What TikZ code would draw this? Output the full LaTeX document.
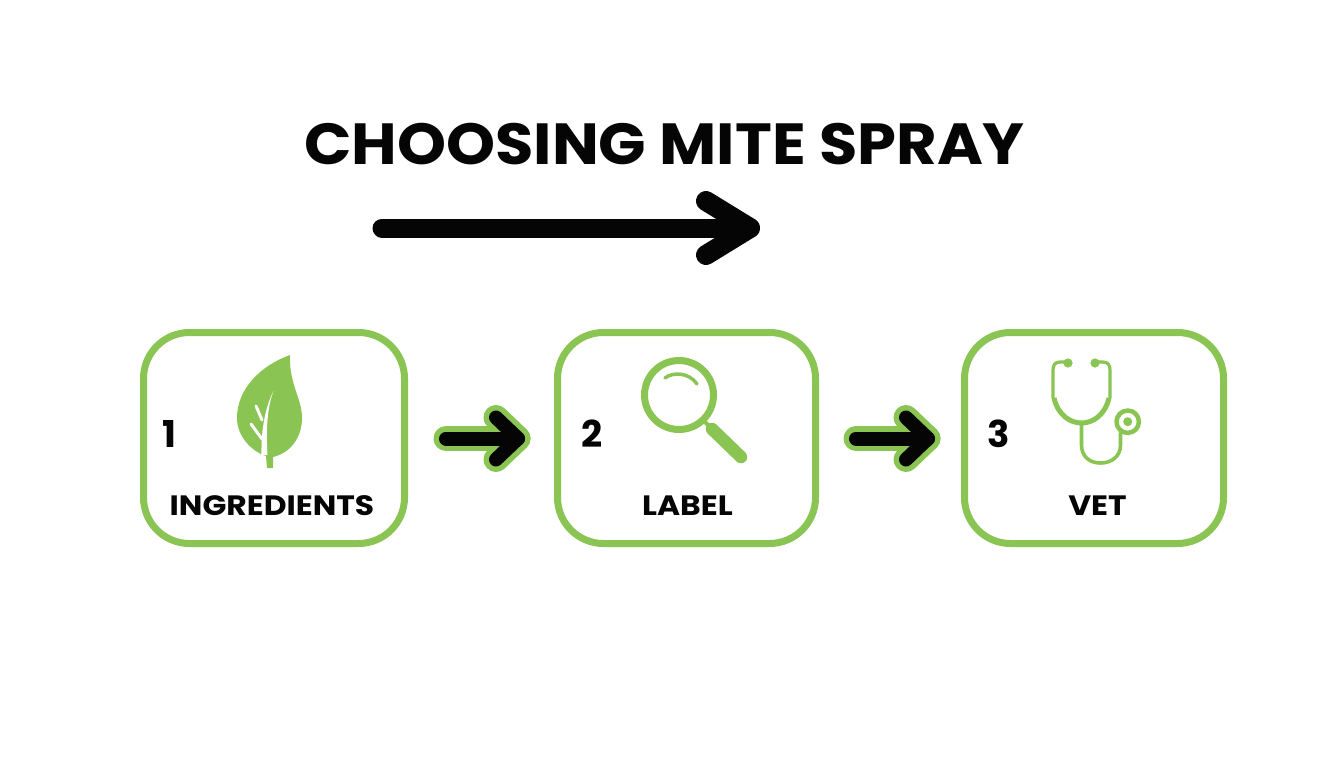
\documentclass[tikz,border=0pt]{standalone}
\usepackage{fontspec}
\setmainfont{Poppins}
\newfontfamily\widefont[FakeStretch=1.12]{Poppins}
\newfontfamily\titlefont[FakeStretch=1.075]{Poppins}
\definecolor{leafgreen}{HTML}{8AC453}
\definecolor{ink}{HTML}{050505}
\tikzset{
  stepbox/.style={draw=leafgreen,line width=7pt,rounded corners=46pt,fill=white,inner sep=0pt,anchor=north west},
  stepnum/.style={font=\bfseries\fontsize{37}{37}\selectfont,text=ink,inner sep=0pt,anchor=base},
  steplabel/.style={font=\widefont\bfseries\fontsize{28}{28}\selectfont,text=ink,inner sep=0pt,anchor=base},
  icon/.style={draw=leafgreen,line cap=round,line join=round},
}
\newcommand{\flowarrow}[2]{%
  \draw[leafgreen,line width=25pt,line cap=round,line join=round] (#1) -- (#2);
  \draw[leafgreen,line width=25pt,line cap=round,line join=round] ([shift={(-22,-21)}]#2) -- (#2) -- ([shift={(-22,21)}]#2);
  \draw[ink,line width=14pt,line cap=round,line join=round] (#1) -- (#2);
  \draw[ink,line width=14pt,line cap=round,line join=round] ([shift={(-22,-21)}]#2) -- (#2) -- ([shift={(-22,21)}]#2);
}
\begin{document}
\begin{tikzpicture}[x=1pt,y=-1pt]
\useasboundingbox (0,0) rectangle (1344,768);
\fill[white] (0,0) rectangle (1344,768);

% title
\node[font=\titlefont\bfseries\fontsize{58}{58}\selectfont,text=ink,inner sep=0pt,anchor=base] (title) at (664.5,164.5) {CHOOSING MITE SPRAY};

% title arrow
\coordinate (ta) at (382,228);
\coordinate (tb) at (750,228);
\draw[ink,line width=19pt,line cap=round] (ta) -- (tb);
\draw[ink,line width=20pt,line cap=round,line join=round] ([shift={(-44,-27)}]tb) -- (tb) -- ([shift={(-44,27)}]tb);

% boxes
\node[stepbox,minimum width=261pt,minimum height=211pt] (box1) at (140,329) {};
\node[stepbox,minimum width=258pt,minimum height=211pt] (box2) at (554,329) {};
\node[stepbox,minimum width=259pt,minimum height=211pt] (box3) at (961,329) {};

% numbers and labels
\node[stepnum] (n1) at (169,447) {1};
\node[stepnum] (n2) at (592,447) {2};
\node[stepnum] (n3) at (998.5,447) {3};
\node[steplabel] (l1) at (272,515) {INGREDIENTS};
\node[steplabel] (l2) at (687.5,515) {LABEL};
\node[steplabel] (l3) at (1097.5,515) {VET};

% connectors
\coordinate (a1s) at (446,438.5);
\coordinate (a1e) at (518,438.5);
\coordinate (a2s) at (856,438.5);
\coordinate (a2e) at (928,438.5);
\flowarrow{a1s}{a1e}
\flowarrow{a2s}{a2e}

% leaf icon
\fill[leafgreen] (290,355) .. controls (262,365) and (237,388) .. (237,418)
  .. controls (237,436) and (251,451) .. (266,456)
  -- (267,468) -- (273,468) -- (273,457)
  .. controls (290,453) and (302,438) .. (302,418)
  .. controls (302,398) and (289,385) .. (290,355) -- cycle;
\fill[white] (273.5,391) .. controls (267,408) and (266,430) .. (267.5,455)
  -- (261.5,455) .. controls (261,430) and (265,408) .. (273.5,391) -- cycle;
\draw[white,line width=3pt,line cap=round] (262,420) -- (256,406);
\draw[white,line width=3pt,line cap=round] (262,439) -- (251,424);

% magnifier icon
\draw[icon,line width=7pt] (679,395) circle (34.5);
\draw[icon,line width=3.5pt] (665,378) .. controls (672,372) and (689,372) .. (697,384);
\draw[icon,line width=4pt,line cap=butt] (703,420) -- (712,429);
\draw[icon,line width=12.5pt] (712,429) -- (741,457);

% stethoscope icon
\fill[leafgreen] (1068,363) circle (4.6);
\fill[leafgreen] (1095,363) circle (4.6);
\draw[icon,line width=3.2pt] (1068,362) -- (1060,362) .. controls (1055,362) and (1053,365) .. (1053,370) -- (1053,398);
\draw[icon,line width=3.2pt] (1095,362) -- (1103,362) .. controls (1108,362) and (1110,365) .. (1110,370) -- (1110,398);
\draw[icon,line width=5pt,line cap=butt] (1054,398) .. controls (1058,415) and (1070,423) .. (1081.5,423) .. controls (1093,423) and (1105,415) .. (1109,398);
\draw[icon,line width=3.6pt] (1081.5,423) -- (1081.5,445) .. controls (1081.5,456) and (1089,463) .. (1100.5,463) .. controls (1112,463) and (1120.5,456) .. (1120.5,445) -- (1120.5,433);
\draw[icon,line width=4.5pt] (1127.7,421.7) circle (11.2);
\fill[leafgreen] (1127.7,421.7) circle (4.5);
\end{tikzpicture}
\end{document}
